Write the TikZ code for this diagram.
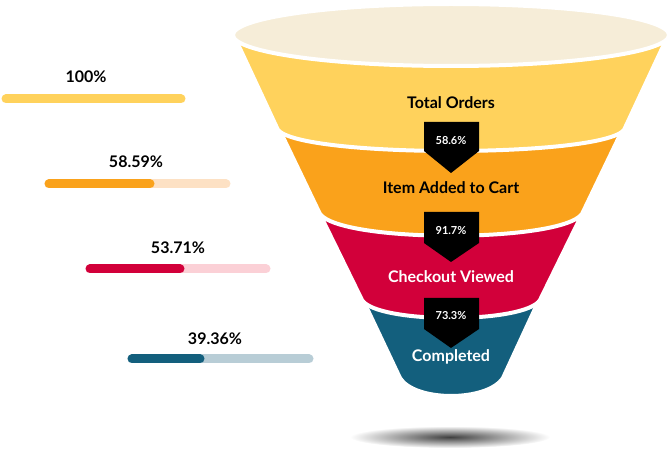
\documentclass[tikz,border=0pt]{standalone}
\usepackage{fontspec}
\setmainfont{Lato}
\usetikzlibrary{shadings}
\definecolor{cyel}{HTML}{FFD25C}
\definecolor{cora}{HTML}{FAA21B}
\definecolor{cred}{HTML}{D2003A}
\definecolor{cblu}{HTML}{135F7D}
\definecolor{cbei}{HTML}{F6EDD8}
\definecolor{lora}{HTML}{FDE1C4}
\definecolor{lred}{HTML}{FBD0D6}
\definecolor{lblu}{HTML}{B8CDD6}
\tikzset{
 band/.style={draw=white,line width=4pt,line join=round},
 lbl/.style={font=\fontsize{16}{18}\selectfont\bfseries},
 pct/.style={font=\fontsize{16}{18}\selectfont\bfseries,text=black},
 badge/.style={fill=black},
 btxt/.style={font=\fontsize{11}{13}\selectfont\bfseries,text=white},
 bar/.style={line width=9pt,line cap=round}
}
\begin{document}
\begin{tikzpicture}[x=1pt,y=-1pt]
\useasboundingbox (0,0) rectangle (670,457);
% shadow
\shade[inner color=black!75,outer color=white] (450,437) ellipse [x radius=100,y radius=11];
% bands
\path[band,fill=cblu] (356,285)--(546,285)--(503,378) .. controls (487,402) and (415,402) .. (400,378)--cycle;
\path[band,fill=cred] (313,200)--(589,200)--(540,300) .. controls (525,324) and (377,324) .. (362,300)--cycle;
\path[band,fill=cora] (270,110)--(632,110)--(582,214) .. controls (560,243) and (342,243) .. (320,214)--cycle;
\path[band,fill=cyel] (236,40)--(666,40)--(624,130) .. controls (600,158) and (302,158) .. (278,130)--cycle;
\path[draw=white,line width=4pt,fill=cbei] (451,35) ellipse [x radius=218,y radius=31];
% labels
\node[lbl,text=black] (l1) at (451,103) {Total Orders};
\node[lbl,text=black] (l2) at (451,188) {Item Added to Cart};
\node[lbl,text=white] (l3) at (451,277) {Checkout Viewed};
\node[lbl,text=white] (l4) at (451,357) {Completed};
% badges
\path[badge] (424,122)--(479,122)--(479,151)--(451,173)--(424,151)--cycle;
\node[btxt] (b1) at (451,141) {58.6\%};
\path[badge] (424,212)--(479,212)--(479,243)--(451,262)--(424,243)--cycle;
\node[btxt] (b2) at (451,231) {91.7\%};
\path[badge] (424,298)--(479,298)--(479,329)--(451,348)--(424,329)--cycle;
\node[btxt] (b3) at (451,316) {73.3\%};
% left bars
\node[pct] (p1) at (86,77) {100\%};
\draw[bar,cyel] (6,99)--(181,99);
\node[pct] (p2) at (136,162) {58.59\%};
\draw[bar,lora] (49,184)--(226,184);
\draw[bar,cora] (49,184)--(150,184);
\node[pct] (p3) at (178,248) {53.71\%};
\draw[bar,lred] (90,269)--(266,269);
\draw[bar,cred] (90,269)--(180,269);
\node[pct] (p4) at (215,339) {39.36\%};
\draw[bar,lblu] (132,359)--(309,359);
\draw[bar,cblu] (132,359)--(200,359);
\end{tikzpicture}
\end{document}
